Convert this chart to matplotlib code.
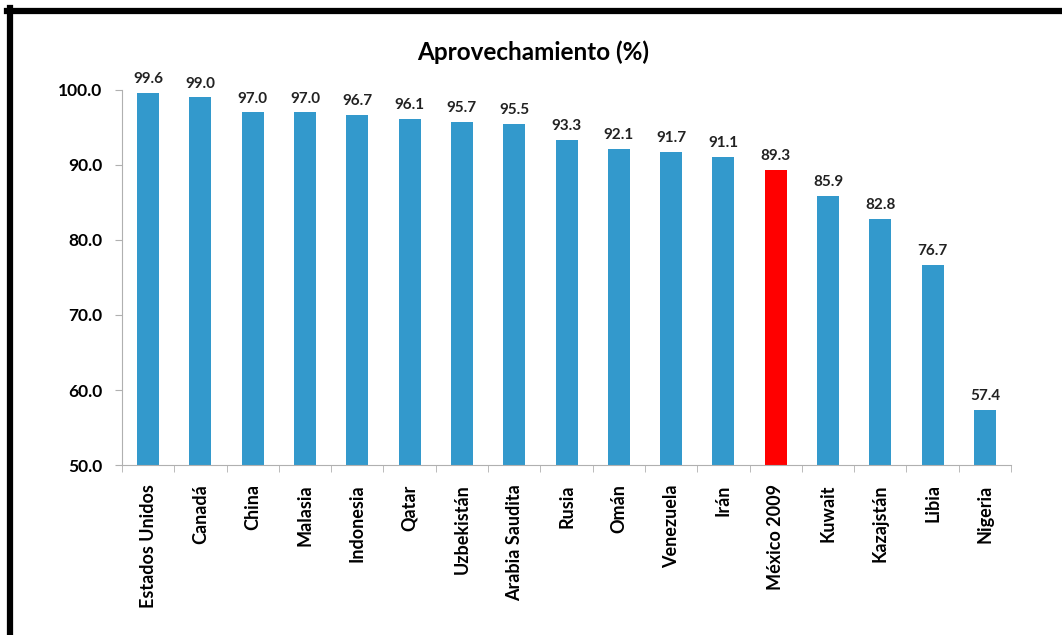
import matplotlib.pyplot as plt
from matplotlib.lines import Line2D
import numpy as np

plt.rcParams['font.family'] = ['Lato', 'DejaVu Sans']

paises = ["Estados Unidos", "Canadá", "China", "Malasia", "Indonesia", "Qatar",
          "Uzbekistán", "Arabia Saudita", "Rusia", "Omán", "Venezuela", "Irán",
          "México 2009", "Kuwait", "Kazajstán", "Libia", "Nigeria"]
aprovechamiento = [99.6, 99.0, 97.0, 97.0, 96.7, 96.1, 95.7, 95.5, 93.3, 92.1,
                   91.7, 91.1, 89.3, 85.9, 82.8, 76.7, 57.4]
resaltado = "México 2009"

fig = plt.figure(figsize=(10.62, 6.35), dpi=100)
ax = fig.add_axes([0.1149, 0.2677, 0.8371, 0.5906])

x = np.arange(len(paises))
colores = ['#FF0000' if p == resaltado else '#3399CC' for p in paises]
ax.bar(x, aprovechamiento, width=0.42, color=colores, zorder=2)

for xi, v in zip(x, aprovechamiento):
    ax.text(xi, v + 0.9, f"{v:.1f}", ha='center', va='bottom',
            fontsize=11, fontweight='bold', color='#222222')

ax.set_xlim(-0.5, len(paises) - 0.5)
ax.set_ylim(50, 100)
ax.set_yticks(np.arange(50, 101, 10))
ax.set_yticklabels([f"{t:.1f}" for t in np.arange(50, 101, 10)],
                   fontsize=12.5, fontweight='bold')

ax.set_xticks(x)
ax.set_xticklabels(paises, rotation=90, fontsize=13, fontweight='bold')
ax.set_xticks(np.arange(-0.5, len(paises), 1), minor=True)
ax.tick_params(axis='x', which='major', length=0, pad=14)
ax.tick_params(axis='x', which='minor', length=5, color='#b0b0b0')
ax.tick_params(axis='y', length=5, color='#b0b0b0', pad=9)

for s in ['top', 'right']:
    ax.spines[s].set_visible(False)
for s in ['left', 'bottom']:
    ax.spines[s].set_color('#b0b0b0')

fig.text(0.502, 0.918, "Aprovechamiento (%)", ha='center', va='center',
         fontsize=17.5, fontweight='bold')

# marco negro (izquierda y arriba)
fig.add_artist(Line2D([10 / 1062, 10 / 1062], [0, 1 - 8 / 635],
                      transform=fig.transFigure, color='black', linewidth=4.5))
fig.add_artist(Line2D([7 / 1062, 1], [1 - 11 / 635, 1 - 11 / 635],
                      transform=fig.transFigure, color='black', linewidth=4.5))

fig.savefig("out.png", dpi=100)
